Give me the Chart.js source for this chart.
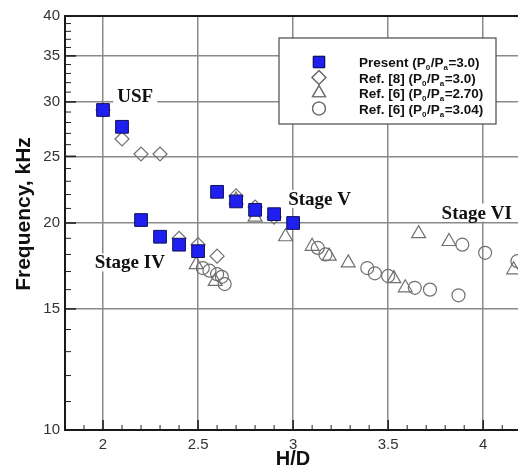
<!DOCTYPE html>
<html><head><meta charset="utf-8">
<script src="https://cdn.jsdelivr.net/npm/chart.js@4/dist/chart.umd.min.js"></script>
<style>html,body{margin:0;padding:0;background:#fff}canvas{display:block}</style>
</head><body>
<canvas id="c" width="518" height="468"></canvas>
<script>
// ---- data ----
const xTicks = [2, 2.5, 3, 3.5, 4];
const yTicks = [10, 15, 20, 25, 30, 35, 40];

const presentX = [2.0, 2.1, 2.2, 2.3, 2.4, 2.5, 2.6, 2.7, 2.8, 2.9, 3.0];
const presentY = [29.2, 27.6, 20.2, 19.1, 18.6, 18.2, 22.2, 21.5, 20.9, 20.6, 20.0];

const ref8X = [2.0, 2.1, 2.2, 2.3, 2.4, 2.5, 2.6, 2.7, 2.8, 2.9];
const ref8Y = [29.2, 26.5, 25.2, 25.2, 19.0, 18.6, 17.9, 21.9, 21.1, 20.4];

const ref6aX = [2.49, 2.59, 2.7, 2.8, 2.96, 3.1, 3.19, 3.29, 3.53, 3.59, 3.66, 3.82, 4.16];
const ref6aY = [17.4, 16.45, 21.6, 20.4, 19.1, 18.5, 17.9, 17.5, 16.6, 16.1, 19.3, 18.8, 17.1];

const ref6bX = [2.525, 2.56, 2.6, 2.625, 2.64, 3.13, 3.17, 3.39, 3.43, 3.5, 3.64, 3.72, 3.87, 3.89, 4.01, 4.18];
const ref6bY = [17.2, 17.05, 16.85, 16.7, 16.3, 18.4, 18.0, 17.2, 16.9, 16.75, 16.1, 16.0, 15.7, 18.6, 18.1, 17.6];

const seriesNames = ['Present', 'Ref. [8]', 'Ref. [6]', 'Ref. [6]'];
const seriesRatios = ['3.0', '3.0', '2.70', '3.04'];
const stageLabels = ['USF', 'Stage IV', 'Stage V', 'Stage VI'];
const xTitle = 'H/D';
const yTitle = 'Frequency, kHz';

// ---- build ----
const pts = (xs, ys) => xs.map((x, i) => ({x: x, y: ys[i]}));
const OPEN = '#707070';
const dsStyles = [
  {pointStyle: 'rect', pointRadius: 9, backgroundColor: '#1f1ff0', borderColor: '#10105a', borderWidth: 1, order: 0},
  {pointStyle: 'rectRot', pointRadius: 7, backgroundColor: 'rgba(0,0,0,0)', borderColor: OPEN, borderWidth: 1.2, order: 1},
  {pointStyle: 'triangle', pointRadius: 8, backgroundColor: 'rgba(0,0,0,0)', borderColor: OPEN, borderWidth: 1.2, order: 2},
  {pointStyle: 'circle', pointRadius: 6.5, backgroundColor: 'rgba(0,0,0,0)', borderColor: OPEN, borderWidth: 1.2, order: 3}
];
const seriesData = [pts(presentX, presentY), pts(ref8X, ref8Y), pts(ref6aX, ref6aY), pts(ref6bX, ref6bY)];
const datasets = seriesData.map((d, i) => Object.assign({
  label: seriesNames[i] + ' (P0/Pa=' + seriesRatios[i] + ')', data: d, showLine: false,
  pointHoverRadius: dsStyles[i].pointRadius
}, dsStyles[i]));

const SANS = '"Liberation Sans", Arial, sans-serif';
const SERIF = '"Liberation Serif", "Times New Roman", serif';

function drawMarker(ctx, st, x, y, r) {
  ctx.save();
  ctx.fillStyle = st.backgroundColor; ctx.strokeStyle = st.borderColor; ctx.lineWidth = st.borderWidth;
  if (Chart.helpers && Chart.helpers.drawPoint) {
    Chart.helpers.drawPoint(ctx, {pointStyle: st.pointStyle, radius: r, borderWidth: st.borderWidth, rotation: 0}, x, y);
    ctx.fill(); if (st.borderWidth > 0) ctx.stroke();
  }
  ctx.restore();
}

const deco = {
  id: 'deco',
  beforeDatasetsDraw(chart) {
    const {ctx} = chart; const xs = chart.scales.x, ys = chart.scales.y;
    // stage annotation anchors (left, baseline) in data coordinates
    const anchors = [[2.075, 29.95], [1.956, 17.18], [2.974, 21.25], [3.781, 20.3]];
    ctx.save();
    ctx.font = 'bold 19px ' + SERIF;
    ctx.textBaseline = 'alphabetic';
    stageLabels.forEach((t, i) => {
      const px = xs.getPixelForValue(anchors[i][0]);
      const py = ys.getPixelForValue(anchors[i][1]);
      const w = ctx.measureText(t).width;
      ctx.fillStyle = '#fff';
      ctx.fillRect(px - 4, py - 15, w + 8, 18);
      ctx.fillStyle = '#111';
      ctx.fillText(t, px, py);
    });
    ctx.restore();
  },
  afterDraw(chart) {
    const {ctx, chartArea: a} = chart; const xs = chart.scales.x, ys = chart.scales.y;
    ctx.save();
    // inward ticks
    ctx.strokeStyle = '#222';
    xs.ticks.forEach(t => {
      const p = xs.getPixelForValue(t.value);
      ctx.lineWidth = 1.6; ctx.beginPath(); ctx.moveTo(p, a.bottom); ctx.lineTo(p, a.bottom - 10); ctx.stroke();
    });
    for (let k = 19; k <= 41; k++) {
      const v = k / 10;
      if (k % 5 === 0) continue;
      const p = xs.getPixelForValue(v);
      ctx.lineWidth = 1; ctx.beginPath(); ctx.moveTo(p, a.bottom); ctx.lineTo(p, a.bottom - 5); ctx.stroke();
    }
    ys.ticks.forEach(t => {
      const p = ys.getPixelForValue(t.value);
      ctx.lineWidth = 1.6; ctx.beginPath(); ctx.moveTo(a.left, p); ctx.lineTo(a.left + 11, p); ctx.stroke();
    });
    for (let v = 11; v < 40; v++) {
      if (v % 5 === 0) continue;
      const p = ys.getPixelForValue(v);
      ctx.lineWidth = 1; ctx.beginPath(); ctx.moveTo(a.left, p); ctx.lineTo(a.left + 6, p); ctx.stroke();
    }
    // frame (top, left, bottom)
    ctx.strokeStyle = '#1a1a1a'; ctx.lineWidth = 2;
    ctx.beginPath(); ctx.moveTo(a.right + 4, a.top); ctx.lineTo(a.left, a.top); ctx.lineTo(a.left, a.bottom); ctx.lineTo(a.right + 4, a.bottom); ctx.stroke();
    // axis titles
    ctx.fillStyle = '#111'; ctx.textAlign = 'center'; ctx.textBaseline = 'middle';
    ctx.font = 'bold 20px ' + SANS;
    ctx.fillText(xTitle, 293, 459);
    ctx.save(); ctx.translate(24, 214); ctx.rotate(-Math.PI / 2); ctx.font = 'bold 21px ' + SANS; ctx.fillText(yTitle, 0, 0); ctx.restore();
    // legend
    const bx = 279, by = 38, bw = 217, bh = 86;
    ctx.fillStyle = '#fff'; ctx.fillRect(bx, by, bw, bh);
    ctx.strokeStyle = '#4a4a4a'; ctx.lineWidth = 1.2; ctx.strokeRect(bx, by, bw, bh);
    const rows = [62, 77.5, 93, 108.5];
    const mr = [8, 7, 7.5, 6.5];
    datasets.forEach((d, i) => {
      drawMarker(ctx, dsStyles[i], 319, rows[i], mr[i]);
      let x = 359; const y = rows[i] + 5;
      ctx.textAlign = 'left'; ctx.textBaseline = 'alphabetic'; ctx.fillStyle = '#111';
      const parts = [[seriesNames[i] + ' (P', 0], ['0', 1], ['/P', 0], ['a', 1], ['=' + seriesRatios[i] + ')', 0]];
      parts.forEach(([t, sub]) => {
        ctx.font = sub ? 'bold 8px ' + SANS : 'bold 13.5px ' + SANS;
        ctx.fillText(t, x, sub ? y + 3 : y);
        x += ctx.measureText(t).width + (sub ? 0.5 : 0);
      });
    });
    ctx.restore();
  }
};

new Chart(document.getElementById('c'), {
  type: 'scatter',
  data: {datasets: datasets},
  options: {
    responsive: false, animation: false, devicePixelRatio: 1, events: [],
    layout: {autoPadding: false, padding: {top: 16, right: 0, left: 0, bottom: 0}},
    plugins: {legend: {display: false}, tooltip: {enabled: false}},
    scales: {
      x: {
        type: 'linear', min: 1.8, max: 4.183,
        afterBuildTicks: s => { s.ticks = xTicks.map(v => ({value: v})); },
        afterFit: s => { s.height = 38; s.paddingRight = 0; s.paddingLeft = 0; },
        grid: {color: '#8a8a8a', lineWidth: 1.5, drawTicks: false},
        border: {display: false},
        ticks: {callback: v => String(v), color: '#333', font: {family: SANS, size: 15}, padding: 6, maxRotation: 0, autoSkip: false}
      },
      y: {
        type: 'logarithmic', min: 10, max: 40,
        afterBuildTicks: s => { s.ticks = yTicks.map(v => ({value: v})); },
        afterFit: s => { s.width = 65; },
        grid: {color: '#8a8a8a', lineWidth: 1.5, drawTicks: false},
        border: {display: false},
        ticks: {callback: v => String(v), color: '#333', font: {family: SANS, size: 15}, padding: 5, autoSkip: false}
      }
    }
  },
  plugins: [deco]
});
</script>
</body></html>
